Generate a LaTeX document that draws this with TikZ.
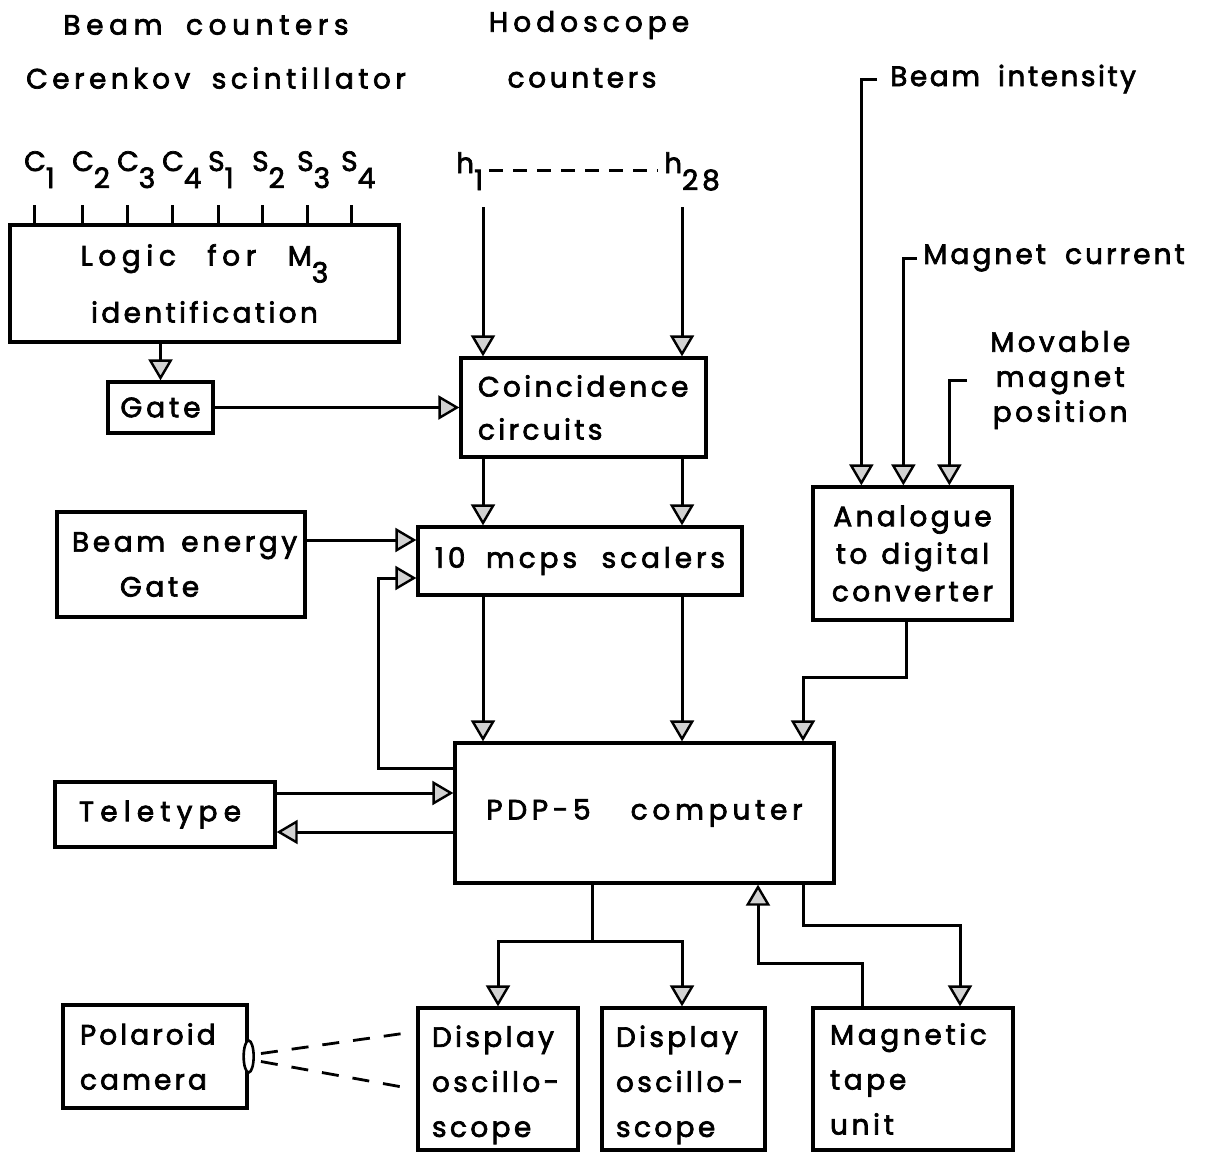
\documentclass[tikz,border=0pt]{standalone}
\usepackage{fontspec}
\setmainfont{Poppins}[LetterSpace=14,WordSpace=1.8,FakeBold=2.5]
\usetikzlibrary{arrows.meta,shapes.geometric,calc}
\newcommand{\sbx}[1]{\raisebox{-17pt}{#1}}
\newcommand{\lft}[1]{\makebox[0pt][l]{#1}}
\newcommand{\lsp}[1]{\addfontfeature{LetterSpace=#1}}
\begin{document}
\begin{tikzpicture}[x=1pt,y=-1pt,
  txt/.style={inner sep=0pt, font=\fontsize{28}{34}\selectfont\lsp{14}},
  box/.style={draw, line width=3.3pt, inner sep=0pt, font=\fontsize{28}{34}\selectfont\lsp{14}},
  ln/.style={line width=3pt},
  arr/.style={line width=3pt, -{Triangle[length=21pt,width=24pt,fill=gray!35,line width=2.4pt]}},
  dsh/.style={line width=2.8pt, dash pattern=on 17pt off 14pt}]
\useasboundingbox (0,0) rectangle (1206,1157);
% top labels
\node[txt, font=\fontsize{28}{34}\selectfont\lsp{20}] (tbc) at (206,25) {Beam counters};
\node[txt, font=\fontsize{28}{34}\selectfont\lsp{16}] (tcs) at (216,78) {Cerenkov scintillator};
\node[txt, font=\fontsize{28}{34}\selectfont\lsp{18}] (tho) at (589,25) {Hodoscope};
\node[txt, font=\fontsize{28}{34}\selectfont\lsp{13}] (tco) at (582,78) {counters};
\foreach \x/\l/\n/\k in {34/C/1/c1,82/C/2/c2,127/C/3/c3,172/C/4/c4,218/S/1/s1,262/S/2/s2,307/S/3/s3,351/S/4/s4}
  \node[txt, anchor=base west] (\k) at (\x-10,171) {\l\sbx{\n}};
\node[txt, anchor=base west] (h1) at (456,173) {h\sbx{1}};
\node[txt, anchor=base west] (h28) at (664,173) {h\sbx{28}};
\draw[ln, dash pattern=on 14pt off 10pt] ([xshift=6pt]h1.east |- 0,170) -- ([xshift=-6pt]h28.west |- 0,170);
\coordinate (h1s) at (483,207);
\coordinate (h28s) at (682,207);
% boxes
\node[box, minimum width=389pt, minimum height=117pt, align=center, font=\fontsize{28}{57}\selectfont] (logic) at (204.5,283.5) {{\lsp{20}Logic\hspace{8pt} for\hspace{8pt} M\sbx{3}}\\{\lsp{12}identification}};
\foreach \x in {34,82,127,172,218,262,307,351}
  \draw[ln] (logic.north -| \x,0) -- ++(0,-18);
\node[box, minimum width=105pt, minimum height=51pt] (gate) at (160.5,407.5) {Gate};
\node[box, minimum width=245pt, minimum height=99pt, text width=211pt, inner xsep=17pt, align=left, font=\fontsize{28}{43}\selectfont\lsp{12}] (coinc) at (583.5,407.5) {\lft{Coincidence}\\\lft{circuits}};
\node[box, minimum width=324pt, minimum height=68pt] (scal) at (580,561) {10 mcps\hspace{4pt} scalers};
\node[box, minimum width=248pt, minimum height=105pt, text width=218pt, inner xsep=15pt, align=left, font=\fontsize{28}{45}\selectfont\lsp{13}] (be) at (181,564.5) {\lft{Beam\hspace{16pt}energy}\\\lft{\hspace*{48pt}Gate}};
\node[box, minimum width=199pt, minimum height=133pt, align=center, font=\fontsize{28}{37.5}\selectfont\lsp{12}] (adc) at (912.5,553.5) {Analogue\\to\hspace{14pt}digital\\converter};
\node[box, minimum width=379pt, minimum height=140pt, font=\fontsize{28}{34}\selectfont\lsp{17}] (pdp) at (644.5,813) {PDP-5\hspace{40pt}computer};
\node[box, minimum width=220pt, minimum height=65pt, font=\fontsize{28}{34}\selectfont\lsp{22}] (tele) at (165,814.5) {\hspace*{-10pt}Teletype};
\node[box, minimum width=184pt, minimum height=103pt, text width=150pt, inner xsep=17pt, align=left, font=\fontsize{28}{45}\selectfont\lsp{11}] (cam) at (155,1056.5) {\lft{Polaroid}\\\lft{camera}};
\node[draw, ellipse, line width=2.6pt, fill=white, minimum width=10pt, minimum height=32pt, inner sep=0pt] (lens) at (cam.east) {};
\node[box, minimum width=160pt, minimum height=142pt, text width=132pt, inner xsep=14pt, align=left, font=\fontsize{28}{45}\selectfont\lsp{12}] (d1) at (498,1079) {\lft{\rule{0pt}{33pt}Display}\\\lft{oscillo-}\\\lft{scope}};
\node[box, minimum width=163pt, minimum height=142pt, text width=135pt, inner xsep=14pt, align=left, font=\fontsize{28}{45}\selectfont\lsp{12}] (d2) at (683.5,1079) {\lft{\rule{0pt}{33pt}Display}\\\lft{oscillo-}\\\lft{scope}};
\node[box, minimum width=200pt, minimum height=142pt, text width=166pt, inner xsep=17pt, align=left, font=\fontsize{28}{45}\selectfont\lsp{13}] (tape) at (913,1079) {\lft{Magnetic}\\\lft{tape}\\\lft{unit}};
% right labels
\node[txt, anchor=west, font=\fontsize{28}{34}\selectfont\lsp{9}] (bi) at (890,79) {Beam intensity};
\node[txt, anchor=west, font=\fontsize{28}{34}\selectfont\lsp{11}] (mc) at (923,258) {Magnet current};
\node[txt, anchor=west, align=center, font=\fontsize{28}{35}\selectfont\lsp{12}] (mm) at (990,380) {Movable\\magnet\\position};
% connectors
\draw[arr] ([xshift=-13pt]bi.west) -| ([xshift=50pt]adc.north west);
\draw[arr] ([xshift=-6pt]mc.west) -| ([xshift=92pt]adc.north west);
\draw[arr] ([xshift=-23pt]mm.west) -| ([xshift=138pt]adc.north west);
\draw[arr] (h1s) -- (coinc.north -| h1s);
\draw[arr] (h28s) -- (coinc.north -| h28s);
\draw[arr] (logic.south -| gate.north) -- (gate.north);
\draw[arr] (gate.east) -- (coinc.west);
\draw[arr] (coinc.south -| 483,0) -- (scal.north -| 483,0);
\draw[arr] (coinc.south -| 682,0) -- (scal.north -| 682,0);
\draw[arr] (be.east |- 0,540) -- (scal.west |- 0,540);
\draw[arr] (pdp.west |- 0,768) -- (378,768) |- (scal.west |- 0,578);
\draw[arr] (scal.south -| 483,0) -- (pdp.north -| 483,0);
\draw[arr] (scal.south -| 682,0) -- (pdp.north -| 682,0);
\draw[arr] (adc.south -| 906,0) -- (906,677) -| (pdp.north -| 803,0);
\draw[arr] (tele.east |- 0,793) -- (pdp.west |- 0,793);
\draw[arr] (pdp.west |- 0,832) -- (tele.east |- 0,832);
\draw[ln] (pdp.south -| 592,0) -- (592,941);
\draw[arr] (592,941) -| (d1.north);
\draw[arr] (592,941) -| (d2.north -| 682,0);
\draw[arr] (pdp.south -| 803,0) -- (803,925) -| (tape.north -| 960,0);
\draw[arr] (tape.north -| 862,0) -- (862,963) -| (pdp.south -| 758,0);
\draw[dsh] ($(lens.east)+(6,-3)$) -- ($(d1.west)+(-3,-47)$);
\draw[dsh] ($(lens.east)+(6,5)$) -- ($(d1.west)+(-3,10)$);
\end{tikzpicture}
\end{document}
